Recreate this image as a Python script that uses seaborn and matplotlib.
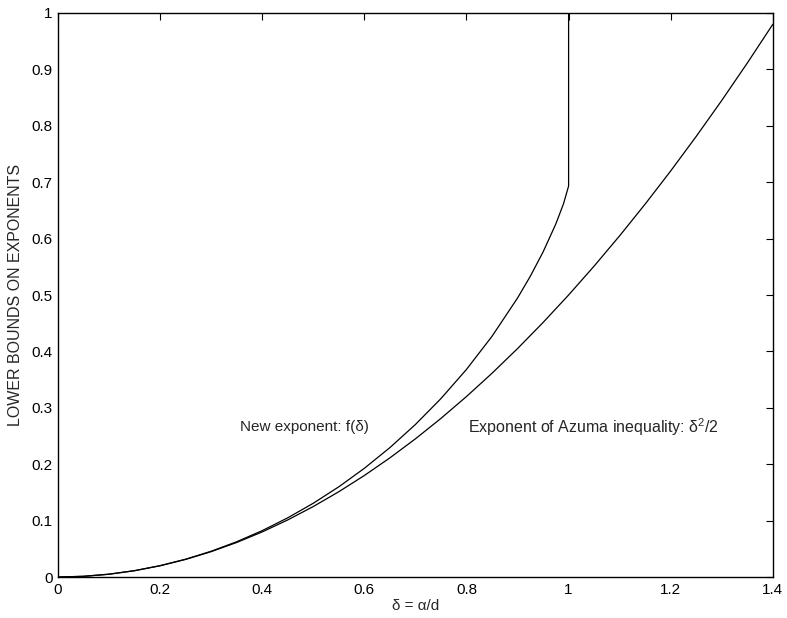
import matplotlib
matplotlib.use("Agg")
import matplotlib.pyplot as plt
import seaborn as sns
import pandas as pd

# New exponent f(delta) (ends with vertical jump at delta = 1)
delta_new = [0.0, 0.05, 0.1, 0.15, 0.2, 0.25, 0.3, 0.35, 0.4, 0.45, 0.5, 0.55, 0.6,
             0.65, 0.7, 0.75, 0.8, 0.85, 0.9, 0.925, 0.95, 0.975, 0.99, 1.0, 1.0]
f_new = [0.0, 0.00125, 0.00501, 0.01129, 0.02014, 0.03158, 0.0457, 0.06257, 0.08228,
         0.10498, 0.13081, 0.15998, 0.19275, 0.22942, 0.27044, 0.31638, 0.36806,
         0.42676, 0.49463, 0.53323, 0.57624, 0.62595, 0.66167, 0.69315, 1.0]

# Azuma exponent delta^2/2
delta_az = [0.0, 0.05, 0.1, 0.15, 0.2, 0.25, 0.3, 0.35, 0.4, 0.45, 0.5, 0.55, 0.6, 0.65,
            0.7, 0.75, 0.8, 0.85, 0.9, 0.95, 1.0, 1.05, 1.1, 1.15, 1.2, 1.25, 1.3, 1.35, 1.4]
f_az = [0.0, 0.00125, 0.005, 0.01125, 0.02, 0.03125, 0.045, 0.06125, 0.08, 0.10125, 0.125,
        0.15125, 0.18, 0.21125, 0.245, 0.28125, 0.32, 0.36125, 0.405, 0.45125, 0.5, 0.55125,
        0.605, 0.66125, 0.72, 0.78125, 0.845, 0.91125, 0.98]

xticks = [0, 0.2, 0.4, 0.6, 0.8, 1, 1.2, 1.4]
yticks = [0, 0.1, 0.2, 0.3, 0.4, 0.5, 0.6, 0.7, 0.8, 0.9, 1]
xtick_labels = ["0", "0.2", "0.4", "0.6", "0.8", "1", "1.2", "1.4"]
ytick_labels = ["0", "0.1", "0.2", "0.3", "0.4", "0.5", "0.6", "0.7", "0.8", "0.9", "1"]

sns.set_style("white")
plt.rcParams["font.family"] = ["Liberation Sans", "DejaVu Sans"]

FS = 11

fig = plt.figure(figsize=(7.87, 6.18), dpi=100)
ax = fig.add_axes([0.0737, 0.0663, 0.9083, 0.9127])

df_new = pd.DataFrame({"x": delta_new, "y": f_new})
df_az = pd.DataFrame({"x": delta_az, "y": f_az})

sns.lineplot(data=df_new, x="x", y="y", ax=ax, color="black", lw=0.9, sort=False,
             estimator=None)
sns.lineplot(data=df_az, x="x", y="y", ax=ax, color="black", lw=0.9, sort=False,
             estimator=None)

ax.set_xlim(0, 1.4)
ax.set_ylim(0, 1)
ax.set_xticks(xticks)
ax.set_xticklabels(xtick_labels)
ax.set_yticks(yticks)
ax.set_yticklabels(ytick_labels)
ax.tick_params(direction="in", length=5, width=0.8, top=True, right=True,
               labelsize=FS, colors="black", pad=4)
for s in ax.spines.values():
    s.set_visible(True)
    s.set_color("black")
    s.set_linewidth(1.0)

ax.set_xlabel("δ = α/d", fontsize=FS, labelpad=2)
ax.set_ylabel("LOWER BOUNDS ON EXPONENTS", fontsize=11.5, labelpad=6)

ax.text(0.609, 0.266, "New exponent: f(δ)", fontsize=FS, va="center", ha="right")
ax.text(0.803, 0.266, "Exponent of Azuma inequality: $\\mathregular{δ^2/2}$",
        fontsize=11.5, va="center", ha="left")

fig.savefig("out.png", dpi=100)
